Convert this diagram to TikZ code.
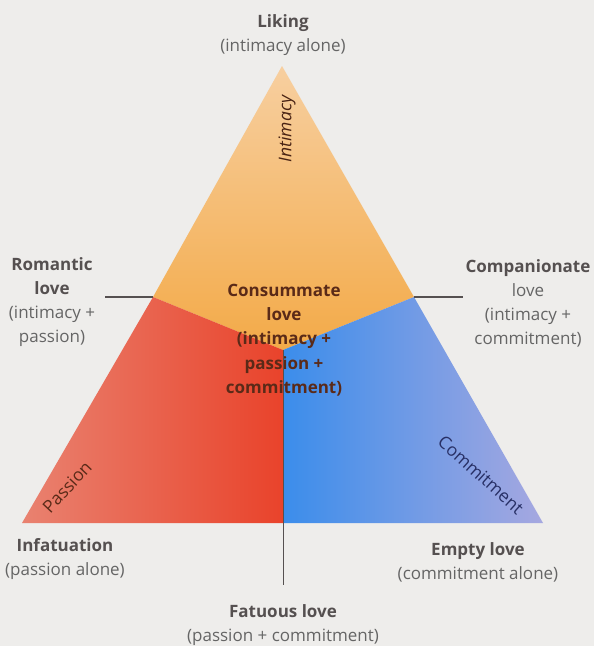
\documentclass[tikz,border=0pt]{standalone}
\usepackage{fontspec}
\setmainfont{Open Sans}
\definecolor{bg}{HTML}{EEEDEB}
\definecolor{txtgray}{HTML}{656565}
\definecolor{boldgray}{HTML}{555050}
\definecolor{cbrown}{HTML}{5A2A18}
\definecolor{orA}{HTML}{F7CFA0}
\definecolor{orB}{HTML}{F3AA48}
\definecolor{redA}{HTML}{E98270}
\definecolor{redB}{HTML}{E9432B}
\definecolor{blueA}{HTML}{3B8DEB}
\definecolor{blueB}{HTML}{A6A8E0}
\definecolor{linegray}{HTML}{555050}
\definecolor{navy}{HTML}{283066}
\begin{document}
\begin{tikzpicture}[x=1pt,y=-1pt,
  lbl/.style={font=\fontsize{17}{24}\selectfont, text=txtgray, align=center, inner sep=0pt},
  side/.style={font=\fontsize{17.5}{20}\selectfont, inner sep=0pt},
  leader/.style={draw=linegray, line width=1.3pt}]
\fill[bg] (0,0) rectangle (594,646);
\useasboundingbox (0,0) rectangle (594,646);
\coordinate (A) at (282,66);
\coordinate (L) at (22,523);
\coordinate (R) at (543,523);
\coordinate (M) at (283,523);
\coordinate (C) at (283,350);
\coordinate (P) at (153,297);
\coordinate (Q) at (414,297);
% regions
\shade[top color=orA, bottom color=orB] (A) -- (P) -- (C) -- (Q) -- cycle;
\shade[left color=redA, right color=redB] (P) -- (C) -- (M) -- (L) -- cycle;
\shade[left color=blueA, right color=blueB] (C) -- (Q) -- (R) -- (M) -- cycle;
% labels
\node[lbl] (liking) at (283,35) {\textbf{\color{boldgray}Liking}\\(intimacy alone)};
\node[lbl] (romantic) at (52,302) {\textbf{\color{boldgray}Romantic}\\\textbf{\color{boldgray}love}\\(intimacy +\\passion)};
\node[lbl] (compan) at (528,303) {\textbf{\color{boldgray}Companionate}\\love\\(intimacy +\\commitment)};
\node[lbl, text=cbrown, font=\bfseries\fontsize{17}{24.3}\selectfont] (consum) at (284,340) {Consummate\\love\\(intimacy +\\passion +\\commitment)};
\node[lbl] (infat) at (65,559) {\textbf{\color{boldgray}Infatuation}\\(passion alone)};
\node[lbl] (empty) at (478,562) {\textbf{\color{boldgray}Empty love}\\(commitment alone)};
\node[lbl] (fatuous) at (283,625) {\textbf{\color{boldgray}Fatuous love}\\(passion + commitment)};
% side labels
\node[side, text=cbrown!80!black, rotate=90, font=\itshape\fontsize{17.5}{20}\selectfont] (intimacy) at (287,129) {Intimacy};
\node[side, text=cbrown, rotate=47] (passion) at (67,487) {Passion};
\node[side, text=navy, rotate=-42] (commit) at (481,475) {Commitment};
% leaders
\coordinate (rl) at (105,297);
\coordinate (cl) at (463,297);
\coordinate (fl) at (283,585);
\draw[leader] (rl) -- (P);
\draw[leader] (Q) -- (cl);
\draw[leader, line width=1pt] (C) -- (fl);
\end{tikzpicture}
\end{document}
